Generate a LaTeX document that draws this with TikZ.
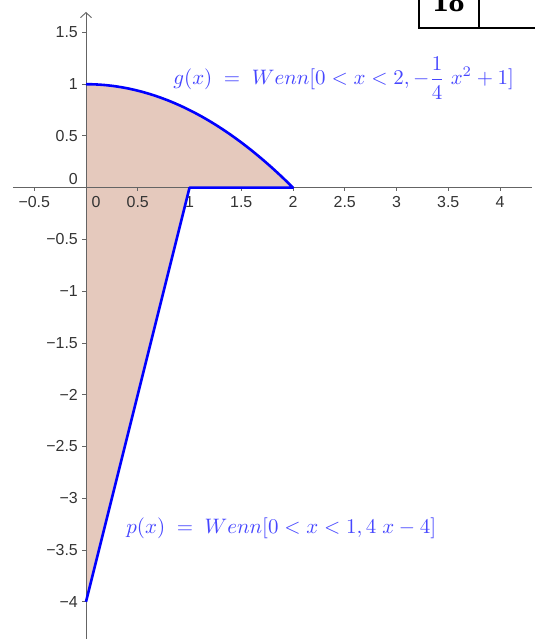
\documentclass[tikz,border=0pt]{standalone}
\usepackage{fontspec}
\setmainfont{Liberation Sans}
\newfontfamily\boxfont{Liberation Serif}
\usetikzlibrary{arrows.meta}
\definecolor{areafill}{RGB}{229,201,189}
\definecolor{curveblue}{RGB}{0,0,255}
\definecolor{labelblue}{RGB}{70,70,255}
\definecolor{axisgray}{RGB}{100,100,100}
\definecolor{ticktext}{RGB}{51,51,51}
\tikzset{
  axisline/.style={draw=axisgray, line width=0.9bp},
  tickmark/.style={draw=axisgray, line width=0.9bp},
  xlab/.style={font=\fontsize{16}{16}\selectfont, text=ticktext, inner sep=0pt, anchor=base},
  ylab/.style={font=\fontsize{16}{16}\selectfont, text=ticktext, inner sep=0pt, anchor=east},
  curve/.style={draw=curveblue, line width=2.6bp, line join=round},
  funclabel/.style={scale=2.1, transform shape, text=labelblue, inner sep=0pt, anchor=base west},
  boxline/.style={draw=black, line width=2bp}
}
\begin{document}
\begin{tikzpicture}[x=103.5bp,y=103.5bp]
\useasboundingbox (-0.83092,-4.36039) rectangle (4.33816,1.81353);
\clip (-0.83092,-4.36039) rectangle (4.33816,1.81353);
% area
\fill[areafill] (0,1) -- plot[domain=0:2,samples=60,smooth] (\x,{1-\x*\x/4}) -- (1,0) -- (0,-4) -- cycle;
% axes
\draw[axisline] (-0.7053,0) -- (4.3092,0);
\draw[axisline, -{Straight Barb[length=5bp,width=11bp]}] (0,-4.4) -- (0,1.6976);
% x ticks
\foreach \t in {-0.5,0.5,1,1.5,2,2.5,3,3.5,4} {
  \draw[tickmark] (\t,0) -- (\t,-0.03);
}
\foreach \t/\s in {-0.5/{−0.5},0.5/0.5,1/1,1.5/1.5,2/2,2.5/2.5,3/3,3.5/3.5,4/4} {
  \node[xlab] (xl\t) at (\t,-0.1894) {\s};
}
\node[xlab] (xl0) at (0.0966,-0.1894) {0};
% y ticks
\foreach \t in {1.5,1,0.5,-0.5,-1,-1.5,-2,-2.5,-3,-3.5,-4} {
  \draw[tickmark] (0,\t) -- (-0.04,\t);
}
\foreach \t/\s in {1.5/1.5,1/1,0.5/0.5,-0.5/{−0.5},-1/{−1},-1.5/{−1.5},-2/{−2},-2.5/{−2.5},-3/{−3},-3.5/{−3.5},-4/{−4}} {
  \node[ylab] (yl\t) at (-0.0773,\t) {\s};
}
\node[ylab] (yl0) at (-0.0773,0.084) {0};
% curves
\draw[curve] plot[domain=0:2,samples=60,smooth] (\x,{1-\x*\x/4}) -- (1,0) -- (0,-4);
% labels
\node[funclabel] (glabel) at (0.8406,0.9923) {$g(x)\;=\;Wenn[0<x<2,-\displaystyle\frac{1}{4}\;x^2+1]$};
\node[funclabel] (plabel) at (0.3865,-3.3391) {$p(x)\;=\;Wenn[0<x<1,4\;x-4]$};
% top-right box
\draw[boxline] (3.2174,2.0) -- (3.2174,1.5459) -- (4.5,1.5459);
\draw[boxline] (3.8,2.0) -- (3.8,1.5459);
\node[inner sep=0pt, anchor=base, font=\boxfont\bfseries\fontsize{32}{32}\selectfont] (num) at (3.5024,1.7024) {18};
\end{tikzpicture}
\end{document}
